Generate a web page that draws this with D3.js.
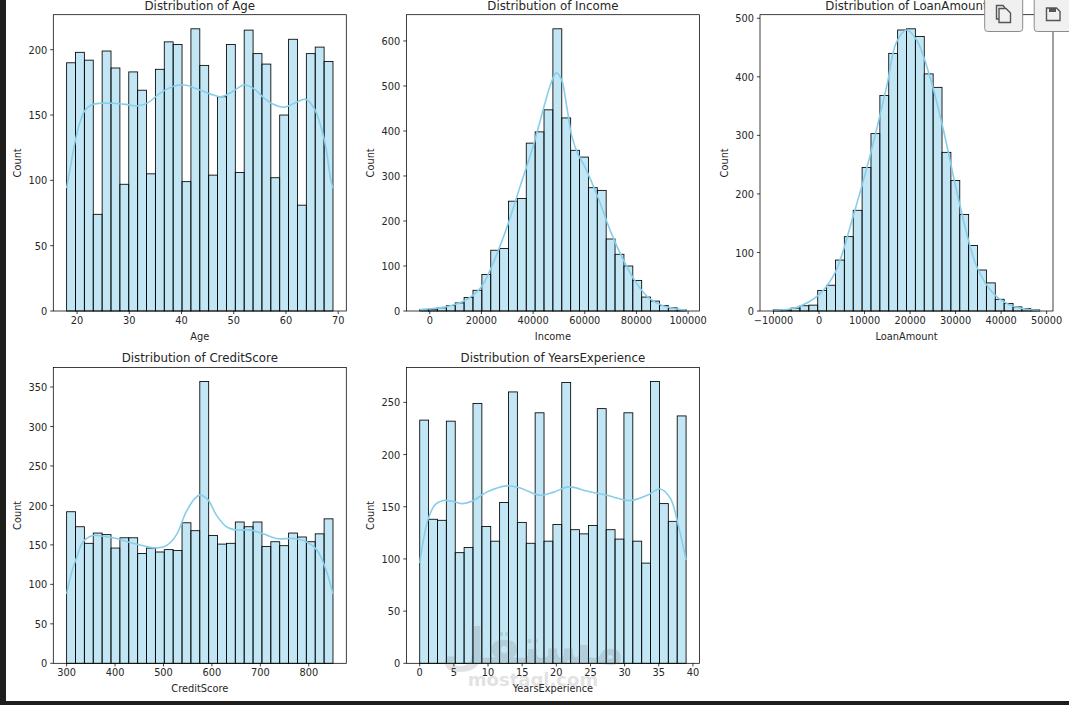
<!DOCTYPE html>
<html>
<head>
<meta charset="utf-8">
<script src="https://cdn.jsdelivr.net/npm/d3@7"></script>
<style>
  html, body { margin: 0; padding: 0; background: #fff; }
  svg { display: block; }
  text { font-family: "DejaVu Sans", sans-serif; fill: #262626; }
</style>
</head>
<body>
<svg id="fig" width="1069" height="705"></svg>
<script>
// Histogram counts, 30 equal bins per variable
const ageCounts = [190,198,192,74,199,186,97,183,169,105,185,206,204,99,216,188,104,164,204,106,215,197,189,102,150,208,81,197,202,191];
const incomeCounts = [3,4,7,12,18,30,46,81,135,139,244,250,373,398,447,627,429,357,342,274,268,160,126,100,68,31,22,12,7,3];
const loanCounts = [2,2,5,9,10,35,44,87,127,172,245,303,368,440,480,482,469,405,382,271,223,165,112,70,48,20,13,7,4,2];
const creditCounts = [192,173,152,165,163,146,159,159,139,146,141,144,143,178,168,357,162,151,152,179,173,179,148,154,149,165,160,154,164,183];
const yearsCounts = [233,138,137,232,106,111,249,131,117,154,260,135,115,240,117,133,269,128,124,132,244,128,119,240,117,96,270,153,136,237];

// Data ranges
const ageRange = [18, 69];
const incomeRange = [-3894, 99224];
const loanRange = [-10041, 48474];
const creditRange = [300, 850];
const yearsRange = [0, 39];

// Density curves, as count-scaled samples
const ageKdeX = [18,18.85,19.7,20.6,21.6,22.9,24.5,27,29.6,31.5,33.4,36,38.5,40.5,43,45.6,47.5,49.4,52,53.9,55.8,57.7,59.6,61.6,63.8,65.4,66.7,67.6,68.6,69];
const ageKdeY = [94,113,131,145,154,158,159,159,158,157,159,167,172,173,170,166,164,167,173,170,163,158,156,159,162,155,141,126,100,94];
const incomeKdeX = [-3894,0,5000,10000,15000,20000,25000,30000,35000,40000,45000,47000,49000,51000,53000,55000,57500,60000,65000,70000,75000,80000,85000,90000,95000,99224];
const incomeKdeY = [3,5,8,15,28,54,113,188,277,366,470,507,529,514,455,388,347,321,254,177,113,62,28,12,5,2];
const loanKdeX = [-10041,-5000,0,3500,7500,11200,14900,17000,19300,21500,24400,27300,31000,34650,38300,42000,45600,48474];
const loanKdeY = [1,6,28,65,162,265,385,459,480,462,399,310,179,76,30,10,3,1];
const creditKdeX = [300,310,320,334,354,375,403,437,465,485,506,527,547,565,575,592,609,630,650,678,706,733,768,795,816,833,850];
const creditKdeY = [88,114,133,154,162,161,158,152,148,146,149,163,192,209,213,207,188,173,169,169,164,158,158,154,144,123,88];
const yearsKdeX = [0,0.54,1.27,2.25,3.47,4.93,6.15,7.86,9.8,12.75,14.7,17.6,19.6,21.8,24.5,27.4,30.8,33.3,35.2,36.7,37.9,39];
const yearsKdeY = [96,118,139,152,156,155,153,156,164,170,168,161,164,169,165,161,156,161,167,158,131,99];

// Tick labels
const ageTicks = [20,30,40,50,60,70];
const ageCountTicks = [0,50,100,150,200];
const incomeTicks = [0,20000,40000,60000,80000,100000];
const incomeCountTicks = [0,100,200,300,400,500,600];
const loanTicks = [-10000,0,10000,20000,30000,40000,50000];
const loanCountTicks = [0,100,200,300,400,500];
const creditTicks = [300,400,500,600,700,800];
const creditCountTicks = [0,50,100,150,200,250,300,350];
const yearsTicks = [0,5,10,15,20,25,30,35,40];
const yearsCountTicks = [0,50,100,150,200,250];

const panels = [
  { name: "Age", counts: ageCounts, range: ageRange, kx: ageKdeX, ky: ageKdeY, xt: ageTicks, yt: ageCountTicks, l: 53.3, t: 14.7, b: 311, ylab: 17.5 },
  { name: "Income", counts: incomeCounts, range: incomeRange, kx: incomeKdeX, ky: incomeKdeY, xt: incomeTicks, yt: incomeCountTicks, l: 406.4, t: 14.7, b: 311, ylab: 371 },
  { name: "LoanAmount", counts: loanCounts, range: loanRange, kx: loanKdeX, ky: loanKdeY, xt: loanTicks, yt: loanCountTicks, l: 760, t: 14.7, b: 311, ylab: 724.5 },
  { name: "CreditScore", counts: creditCounts, range: creditRange, kx: creditKdeX, ky: creditKdeY, xt: creditTicks, yt: creditCountTicks, l: 53.3, t: 367.4, b: 663.3, ylab: 17.5 },
  { name: "YearsExperience", counts: yearsCounts, range: yearsRange, kx: yearsKdeX, ky: yearsKdeY, xt: yearsTicks, yt: yearsCountTicks, l: 406.4, t: 367.4, b: 663.3, ylab: 371 }
];
const panelWidth = 293;
const tickFont = 9.8, titleFont = 11.8;

const svg = d3.select("#fig");

panels.forEach(p => {
  const [lo, hi] = p.range;
  const pad = (hi - lo) * 0.05;
  const r = p.l + panelWidth;
  const x = d3.scaleLinear().domain([lo - pad, hi + pad]).range([p.l, r]);
  const y = d3.scaleLinear().domain([0, d3.max(p.counts) * 1.05]).range([p.b, p.t]);
  const g = svg.append("g");
  const w = (hi - lo) / p.counts.length;

  // Bars
  g.selectAll("rect.bar").data(p.counts).join("rect")
    .attr("class", "bar")
    .attr("x", (d, i) => x(lo + i * w))
    .attr("y", d => y(d))
    .attr("width", (d, i) => x(lo + (i + 1) * w) - x(lo + i * w))
    .attr("height", d => y(0) - y(d))
    .attr("fill", "#87ceeb").attr("fill-opacity", 0.5)
    .attr("stroke", "#000").attr("stroke-width", 0.85);

  // Density line
  const line = d3.line().x(d => x(d[0])).y(d => y(d[1])).curve(d3.curveCatmullRom);
  g.append("path").datum(d3.zip(p.kx, p.ky))
    .attr("d", line).attr("fill", "none")
    .attr("stroke", "#87ceeb").attr("stroke-width", 1.6);

  // Frame
  g.append("rect").attr("x", p.l).attr("y", p.t)
    .attr("width", panelWidth).attr("height", p.b - p.t)
    .attr("fill", "none").attr("stroke", "#000").attr("stroke-width", 0.75);

  // Axes
  const ax = g.append("g").attr("transform", `translate(0,${p.b})`)
    .call(d3.axisBottom(x).tickValues(p.xt).tickFormat(d3.format("d")).tickSize(3.1).tickPadding(2.6).offset(0));
  const ay = g.append("g").attr("transform", `translate(${p.l},0)`)
    .call(d3.axisLeft(y).tickValues(p.yt).tickFormat(d3.format("d")).tickSize(3.1).tickPadding(3).offset(0));
  [ax, ay].forEach(a => {
    a.select(".domain").remove();
    a.selectAll("line").attr("stroke", "#000").attr("stroke-width", 0.75);
    a.selectAll("text").attr("font-size", tickFont).attr("font-family", "DejaVu Sans").attr("fill", "#262626");
  });
  ax.selectAll("text").text(d => String(d).replace("-", "\u2212"));
  ay.selectAll("text").attr("dy", "0.42em");

  // Labels
  g.append("text").attr("x", (p.l + r) / 2).attr("y", p.t - 5)
    .attr("text-anchor", "middle").attr("font-size", titleFont).text(`Distribution of ${p.name}`);
  g.append("text").attr("x", (p.l + r) / 2).attr("y", p.b + 29)
    .attr("text-anchor", "middle").attr("font-size", tickFont).text(p.name);
  g.append("text").attr("transform", `translate(${p.ylab},${(p.t + p.b) / 2}) rotate(-90)`)
    .attr("dy", "0.35em")
    .attr("text-anchor", "middle").attr("font-size", tickFont).text("Count");
});

// Site watermark over the lower middle panel
const mark = svg.append("g").attr("text-anchor", "middle").style("opacity", 0.18);
mark.append("text").attr("x", 533).attr("y", 664).attr("font-size", 50).attr("font-weight", "bold")
  .attr("direction", "rtl").style("fill", "#666").text("مستقل");
mark.append("text").attr("x", 533).attr("y", 686).attr("font-size", 18).attr("font-weight", "bold")
  .style("fill", "#666").text("mostaql.com");

// Viewer chrome: dark window edges
svg.append("rect").attr("x", 0).attr("y", 0).attr("width", 6).attr("height", 705).attr("fill", "#1e1f1c");
svg.append("rect").attr("x", 0).attr("y", 701).attr("width", 1069).attr("height", 4).attr("fill", "#1e1f1c");

// Viewer chrome: copy and save buttons
const btn = svg.append("g");
[[984.7, 38], [1034.2, 50]].forEach(([bx, bw]) => {
  btn.append("rect").attr("x", bx).attr("y", -4).attr("width", bw).attr("height", 35.5).attr("rx", 3)
    .attr("fill", "#f0f0f1").attr("stroke", "#8c8c8c").attr("stroke-width", 1);
});
const icon = { fill: "none", stroke: "#555", "stroke-width": 1.4 };
const addPath = (d, extra) => {
  const el = btn.append("path").attr("d", d);
  Object.entries(Object.assign({}, icon, extra)).forEach(([k, v]) => el.attr(k, v));
};
addPath("M999 19 H996.5 V5.5 H1003 L1005 8");
addPath("M999 8.5 H1006 L1010.5 13 V22.5 H999 Z");
addPath("M1046.5 8 H1056.5 L1060 11.5 V20.5 H1046.5 Z");
btn.append("rect").attr("x", 1049).attr("y", 8).attr("width", 7).attr("height", 4).attr("fill", "#555");
</script>
</body>
</html>
